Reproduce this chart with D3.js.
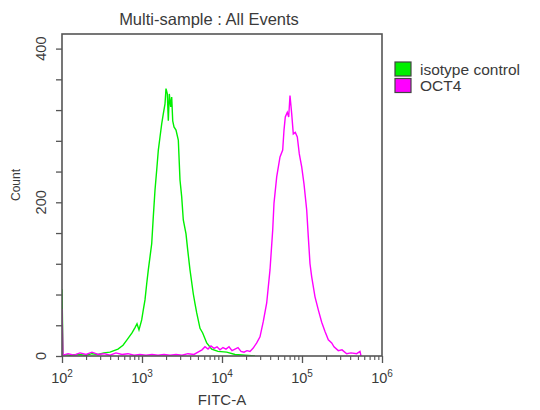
<!DOCTYPE html>
<html>
<head>
<meta charset="utf-8">
<script src="https://cdn.jsdelivr.net/npm/d3@7"></script>
<style>
  body { margin: 0; background: #fff; }
  text { font-family: "Liberation Sans", Arial, sans-serif; fill: #3a3a3a; }
</style>
</head>
<body>
<div id="chart"></div>
<script>
// size of the page
var chart_width  = 540;
var chart_height = 410;

// plot box
var plot_left   = 62;
var plot_right  = 382;
var plot_top    = 34;
var plot_bottom = 356;

// isotype control histogram (FITC-A value, count)
var iso_fitc  = [100, 103, 126, 158, 200, 237, 282, 335, 398, 501, 579, 649, 750, 818, 866, 917, 991,
                 1038, 1090, 1145, 1199, 1259, 1322, 1384, 1454, 1527, 1600, 1679, 1763, 1846, 1939, 1995,
                 2072, 2133, 2194, 2285, 2351, 2421, 2512, 2661, 2844, 2985, 3135, 3283, 3548, 3726, 3981,
                 4375, 4597, 4830, 5309, 5737, 6442, 7435, 8913, 11450, 14540, 19390, 25850];
var iso_count = [87, 2, 1, 2, 1, 3, 2, 4, 5, 9, 14, 21, 30, 37, 42, 34, 47,
                 60, 73, 94, 112, 129, 146, 181, 216, 242, 268, 285, 302, 315, 328, 348,
                 341, 306, 341, 324, 337, 306, 298, 294, 281, 229, 207, 177, 159, 138, 112,
                 81, 68, 56, 36, 30, 17, 9, 6, 5, 2, 1, 0];

// OCT4 histogram (FITC-A value, count)
var oct_fitc  = [100, 103, 119, 141, 168, 200, 237, 282, 335, 398, 473, 562, 668, 794, 944, 1122, 1334,
                 1585, 1884, 2239, 2661, 3162, 3758, 4467, 5012, 5623, 6131, 6683, 7286, 7943, 8660,
                 9441, 10290, 11220, 12230, 13340, 14540, 15850, 17280, 18840, 20540, 22390, 24410,
                 27160, 29850, 32830, 36200, 39810, 43040, 44670, 48280, 53090, 57370, 59570, 61830,
                 65500, 68180, 70790, 74350, 77850, 82450, 87350, 92520, 99140, 105900, 114500, 119900,
                 125900, 132200, 145400, 159900, 176300, 193900, 213300, 235100, 251200, 284300,
                 316200, 362200, 410000, 482800, 530900, 546500];
var oct_count = [61, 1, 3, 1, 4, 2, 5, 2, 3, 1, 4, 2, 3, 1, 2, 1, 2,
                 1, 2, 1, 2, 1, 3, 2, 5, 8, 12, 9, 13, 10, 12,
                 8, 11, 9, 12, 7, 9, 11, 6, 5, 7, 6, 10,
                 17, 25, 45, 69, 112, 164, 199, 233, 259, 268, 294, 311,
                 317, 311, 339, 315, 289, 291, 285, 263, 246, 224, 190, 155,
                 120, 103, 77, 60, 44, 32, 21, 17, 12, 7,
                 8, 3, 4, 3, 6, 0];

// axis ticks
var x_decades  = [100, 1000, 10000, 100000, 1000000];
var x_exponent = ["2", "3", "4", "5", "6"];
var y_ticks    = [0, 40, 80, 120, 160, 200, 240, 280, 320, 360, 400];
var y_labels   = [0, 200, 400];

// legend
var legend_names  = ["isotype control", "OCT4"];
var legend_colors = ["#00f000", "#ff00ff"];

var svg = d3.select("#chart")
    .append("svg")
    .attr("width", chart_width)
    .attr("height", chart_height);

var x = d3.scaleLog()
    .domain([100, 1000000])
    .range([plot_left, plot_right]);

var y = d3.scaleLinear()
    .domain([0, 419])
    .range([plot_bottom, plot_top]);

// title
svg.append("text")
    .attr("x", 209)
    .attr("y", 25)
    .attr("text-anchor", "middle")
    .style("font-size", "16.5px")
    .text("Multi-sample : All Events");

// histograms, clipped to the box
svg.append("clipPath").attr("id", "clip")
    .append("rect")
    .attr("x", plot_left).attr("y", plot_top)
    .attr("width", plot_right - plot_left)
    .attr("height", plot_bottom - plot_top);

var line = d3.line()
    .x(function(d){ return x(d[0]); })
    .y(function(d){ return y(d[1]); });

var series = [d3.zip(iso_fitc, iso_count), d3.zip(oct_fitc, oct_count)];

svg.append("g")
    .attr("clip-path", "url(#clip)")
    .selectAll("path")
    .data(series)
    .enter()
    .append("path")
    .attr("d", line)
    .attr("fill", "none")
    .attr("stroke", function(d, i){ return legend_colors[i]; })
    .attr("stroke-width", 1.4);

// x axis: decades with minor ticks 2..9
var x_minor = [];
x_decades.slice(0, -1).forEach(function(d){
  for (var k = 2; k <= 9; k++) x_minor.push(d * k);
});

svg.append("g")
    .attr("transform", "translate(0," + plot_bottom + ")")
    .call(d3.axisBottom(x).tickValues(x_minor).tickSize(4).tickFormat(""))
    .call(function(g){ g.select(".domain").remove(); })
    .selectAll("line").attr("stroke", "#555").attr("stroke-width", 1.1);

var x_axis = svg.append("g")
    .attr("transform", "translate(0," + plot_bottom + ")")
    .call(d3.axisBottom(x).tickValues(x_decades).tickSize(7).tickFormat(""));
x_axis.select(".domain").remove();
x_axis.selectAll("line").attr("stroke", "#555").attr("stroke-width", 1.3);

var x_label = svg.append("g").selectAll("text")
    .data(x_decades)
    .enter()
    .append("text")
    .attr("x", function(d){ return x(d); })
    .attr("y", 383)
    .attr("text-anchor", "middle")
    .style("font-size", "14.5px");
x_label.append("tspan").text("10");
x_label.append("tspan")
    .attr("dy", -6)
    .style("font-size", "10px")
    .text(function(d, i){ return x_exponent[i]; });

svg.append("text")
    .attr("x", 222)
    .attr("y", 405)
    .attr("text-anchor", "middle")
    .style("font-size", "15px")
    .text("FITC-A");

// y axis
var y_axis = svg.append("g")
    .attr("transform", "translate(" + plot_left + ",0)")
    .call(d3.axisLeft(y).tickValues(y_ticks).tickSize(6).tickFormat(""));
y_axis.select(".domain").remove();
y_axis.selectAll("line").attr("stroke", "#555").attr("stroke-width", 1.3);

svg.append("g").selectAll("text")
    .data(y_labels)
    .enter()
    .append("text")
    .attr("transform", function(d){ return "translate(46," + y(d) + ") rotate(-90)"; })
    .attr("text-anchor", "middle")
    .style("font-size", "14.5px")
    .text(function(d){ return d; });

svg.append("text")
    .attr("transform", "translate(20,185) rotate(-90)")
    .attr("text-anchor", "middle")
    .style("font-size", "12px")
    .text("Count");

// plot frame
svg.append("rect")
    .attr("x", plot_left)
    .attr("y", plot_top)
    .attr("width", plot_right - plot_left)
    .attr("height", plot_bottom - plot_top)
    .attr("fill", "none")
    .attr("stroke", "#555")
    .attr("stroke-width", 1.6);

// legend
var legend = svg.append("g").selectAll("g")
    .data(legend_names)
    .enter()
    .append("g")
    .attr("transform", function(d, i){ return "translate(395," + (62 + i * 16.5) + ")"; });

legend.append("rect")
    .attr("width", 16)
    .attr("height", 14)
    .attr("fill", function(d, i){ return legend_colors[i]; })
    .attr("stroke", "#444")
    .attr("stroke-width", 1.2);

legend.append("text")
    .attr("x", 25)
    .attr("y", 12.5)
    .style("font-size", "15.5px")
    .text(function(d){ return d; });
</script>
</body>
</html>
